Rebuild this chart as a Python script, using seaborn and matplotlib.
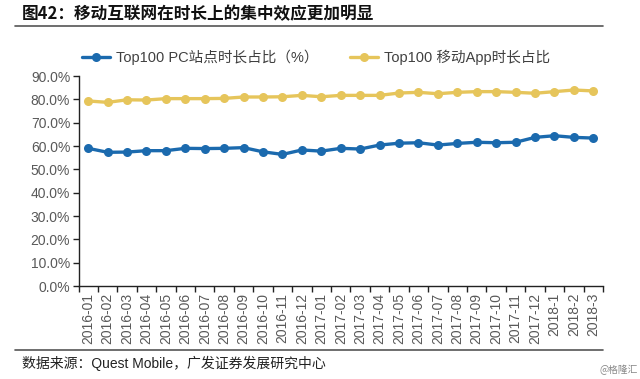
import numpy as np
import pandas as pd
import matplotlib
matplotlib.use('Agg')
import matplotlib.pyplot as plt
import seaborn as sns
from matplotlib.lines import Line2D
from matplotlib.ticker import FuncFormatter, FixedLocator

sns.set_theme(style='white')
plt.rcParams['font.family'] = ['Liberation Sans', 'Noto Sans CJK SC', 'DejaVu Sans']

# 数据
months = ['2016-01', '2016-02', '2016-03', '2016-04', '2016-05', '2016-06',
          '2016-07', '2016-08', '2016-09', '2016-10', '2016-11', '2016-12',
          '2017-01', '2017-02', '2017-03', '2017-04', '2017-05', '2017-06',
          '2017-07', '2017-08', '2017-09', '2017-10', '2017-11', '2017-12',
          '2018-1', '2018-2', '2018-3']
pc_share = [59.0, 57.3, 57.4, 58.0, 58.0, 59.0, 58.9, 59.0, 59.3, 57.5,
            56.4, 58.3, 57.8, 59.0, 58.7, 60.4, 61.2, 61.4, 60.4, 61.1,
            61.6, 61.4, 61.6, 63.7, 64.4, 63.7, 63.4]
app_share = [79.3, 78.7, 79.8, 79.7, 80.3, 80.3, 80.3, 80.4, 81.0, 81.0,
             81.1, 81.7, 81.1, 81.7, 81.7, 81.7, 82.7, 83.0, 82.4, 83.0,
             83.3, 83.3, 83.0, 82.6, 83.3, 84.0, 83.6]
series_names = ['Top100 PC站点时长占比（%）', 'Top100 移动App时长占比']
colors = ['#1B6AAE', '#E6C55B']

df = pd.DataFrame({
    'month': months * 2,
    'value': pc_share + app_share,
    'series': [series_names[0]] * len(months) + [series_names[1]] * len(months),
})
df['x'] = df.groupby('series').cumcount()

fig = plt.figure(figsize=(6.4, 3.79), dpi=100)
ax = fig.add_axes([78.5 / 640, 1 - 286 / 379, (603 - 78.5) / 640, 210 / 379])

sns.lineplot(data=df, x='x', y='value', hue='series', palette=colors,
             marker='o', markersize=6.5, markeredgewidth=0, linewidth=2.4,
             legend=False, ax=ax)

ax.set_xlim(-0.5, len(months) - 0.5)
ax.set_ylim(0, 90)
ax.set_yticks(np.arange(0, 91, 10))
ax.yaxis.set_major_formatter(FuncFormatter(lambda v, p: f'{v:.1f}%'))
ax.set_xticks(range(len(months)))
ax.set_xticklabels(months, rotation=90)
ax.xaxis.set_minor_locator(FixedLocator(np.arange(-0.5, len(months), 1)))
ax.set_xlabel('')
ax.set_ylabel('')

for s in ['top', 'right']:
    ax.spines[s].set_visible(False)
for s in ['left', 'bottom']:
    ax.spines[s].set_color('#222222')
    ax.spines[s].set_linewidth(1.0)

ax.tick_params(axis='y', which='major', direction='out', length=4, width=1,
               color='#222222', labelsize=10, labelcolor='#595959', pad=2, left=True)
ax.tick_params(axis='x', which='major', length=0, labelsize=10,
               labelcolor='#595959', pad=5, bottom=True)
ax.tick_params(axis='x', which='minor', direction='out', length=4, width=1,
               color='#222222', bottom=True)

# 图例
handles = [Line2D([], [], color=c, marker='o', markersize=6.5, markeredgewidth=0,
                  linewidth=2.4) for c in colors]
fig.legend(handles, series_names, loc='center', bbox_to_anchor=(316 / 640, 1 - 57 / 379),
           ncol=2, frameon=False, fontsize=10.5, handlelength=1.9, handletextpad=0.4,
           columnspacing=2.2, labelcolor='#404040')

# 标题与分隔线
fig.text(22 / 640, 1 - 14 / 379, '图42：移动互联网在时长上的集中效应更加明显',
         fontsize=12, fontweight='bold', va='center', ha='left', color='#111111',
         family=['Noto Sans CJK SC', 'DejaVu Sans'])
fig.add_artist(Line2D([15 / 640, 603 / 640], [1 - 26 / 379, 1 - 26 / 379],
                      color='#555555', linewidth=1.2))
fig.add_artist(Line2D([15 / 640, 603 / 640], [1 - 350 / 379, 1 - 350 / 379],
                      color='#555555', linewidth=1.2))

fig.text(22 / 640, 1 - 363 / 379, '数据来源：Quest Mobile，广发证券发展研究中心',
         fontsize=10, va='center', ha='left', color='#222222')
fig.text(638 / 640, 1 - 370 / 379, '@格隆汇', fontsize=7, va='center', ha='right',
         color='#888888', family=['Noto Sans CJK SC', 'DejaVu Sans'])

fig.savefig('out.png', dpi=100)
